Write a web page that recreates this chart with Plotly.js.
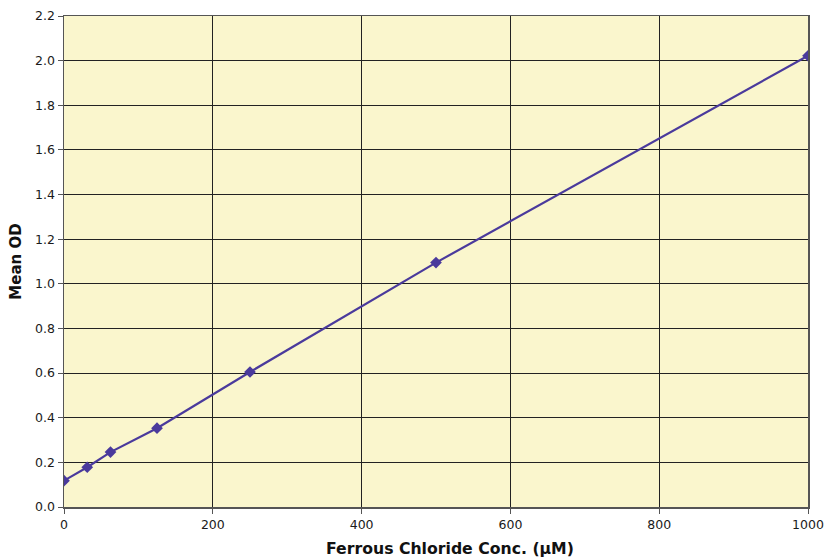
<!DOCTYPE html>
<html><head><meta charset="utf-8">
<script src="https://cdn.plot.ly/plotly-3.0.1.min.js"></script>
<style>html,body{margin:0;padding:0;background:#fff}</style>
</head><body>
<div id="chart" style="width:827px;height:560px"></div>
<script>
var concentrations = [0, 31.25, 62.5, 125, 250, 500, 1000];
var meanOD = [0.118, 0.178, 0.246, 0.353, 0.605, 1.095, 2.022];
var xTitle = 'Ferrous Chloride Conc. (µM)';
var yTitle = 'Mean OD';

var trace = {
  x: concentrations, y: meanOD, mode: 'lines+markers', type: 'scatter',
  line: {color: '#4a3a9c', width: 2.2},
  marker: {symbol: 'diamond', size: 9, color: '#4a3a9c'},
  hoverinfo: 'skip'
};
var layout = {
  width: 827, height: 560,
  margin: {l: 64, r: 19, t: 16, b: 53},
  paper_bgcolor: '#ffffff', plot_bgcolor: '#faf6cd',
  showlegend: false,
  font: {family: '"DejaVu Sans", sans-serif', size: 12.5, color: '#1a1a1a'},
  xaxis: {
    range: [0, 1000], dtick: 200, tickformat: 'd',
    showgrid: true, gridcolor: '#222', gridwidth: 1,
    zeroline: false, showline: true, linecolor: '#555', linewidth: 1.5, mirror: true,
    ticks: 'outside', ticklen: 5, tickcolor: '#555'
  },
  yaxis: {
    range: [0, 2.2], dtick: 0.2, tickformat: '.1f',
    showgrid: true, gridcolor: '#222', gridwidth: 1,
    zeroline: false, showline: true, linecolor: '#555', linewidth: 1.5, mirror: true,
    ticks: 'outside', ticklen: 5, tickcolor: '#555',
    title: {text: yTitle, font: {size: 15, weight: 'bold', color: '#111'}, standoff: 10}
  },
  annotations: [{
    text: '<b>' + xTitle + '</b>', xref: 'paper', yref: 'paper',
    x: 0.519, y: -0.0855, xanchor: 'center', yanchor: 'middle',
    showarrow: false, font: {size: 15.7, color: '#111'}
  }]
};
Plotly.newPlot('chart', [trace], layout, {displayModeBar: false, staticPlot: true});
</script>
</body></html>
